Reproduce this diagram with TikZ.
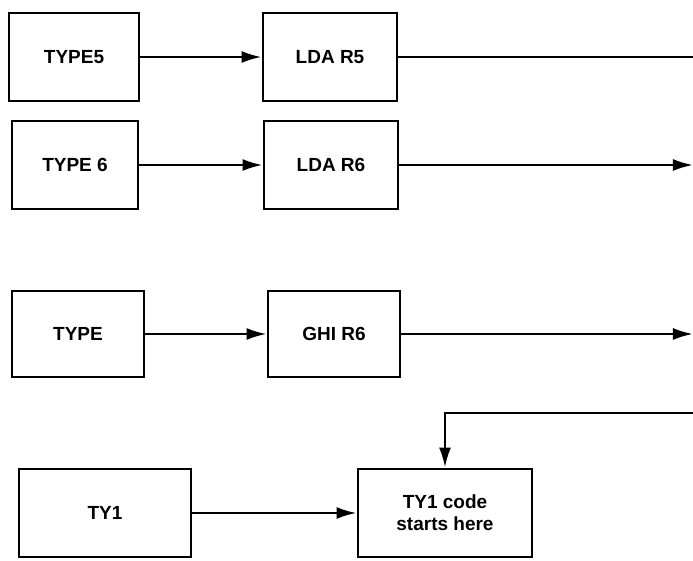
\documentclass[tikz,border=0pt]{standalone}
\usepackage{fontspec}
\setmainfont{Liberation Sans}
\usetikzlibrary{arrows.meta}
\begin{document}
\begin{tikzpicture}[x=0.5pt,y=-0.5pt,
    every node/.style={font=\fontsize{9.5pt}{11pt}\selectfont\bfseries},
    blk/.style={draw,line width=1.4pt,minimum width=65pt,minimum height=44pt,align=center},
    wide/.style={blk,minimum width=86pt},
    flow/.style={line width=1.2pt,-{Latex[length=10pt,width=6pt]}}]
    \useasboundingbox (0,0) rectangle (693,561);
    % row 1
    \node[blk] (type5) at (74,57) {TYPE5};
    \node[blk,minimum width=67pt] (ldar5) at (330,57) {LDA R5};
    \coordinate (out5) at (693,57);
    % row 2
    \node[blk,minimum width=63pt] (type6) at (75,165) {TYPE 6};
    \node[blk,minimum width=67pt] (ldar6) at (331,165) {LDA R6};
    \coordinate (out6) at (693,165);
    % row 3
    \node[blk,minimum width=66pt,minimum height=43pt] (type) at (78,334) {TYPE};
    \node[blk,minimum width=66pt,minimum height=43pt] (ghir6) at (334,334) {GHI R6};
    \coordinate (out7) at (693,334);
    % row 4
    \node[wide] (ty1) at (105,513) {TY1};
    \node[wide,minimum width=87pt] (ty1code) at (445,513) {TY1 code\\starts here};
    \coordinate (in1) at (693,413);
    \draw[flow] (type5) -- (ldar5);
    \draw[line width=1.2pt] (ldar5) -- (out5);
    \draw[flow] (type6) -- (ldar6);
    \draw[flow] (ldar6) -- (out6);
    \draw[flow] (type) -- (ghir6);
    \draw[flow] (ghir6) -- (out7);
    \draw[flow] (ty1) -- (ty1code);
    \draw[flow] (in1) -| (ty1code.north);
\end{tikzpicture}
\end{document}
